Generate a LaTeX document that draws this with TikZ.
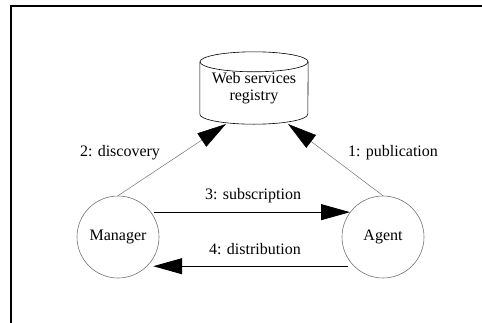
\documentclass[tikz,border=0pt]{standalone}
\usepackage{fontspec}
\setmainfont{Liberation Serif}
\usetikzlibrary{arrows.meta}
\begin{document}
\begin{tikzpicture}[x=1pt,y=-1pt,
  every node/.style={font=\fontsize{16}{17}\selectfont},
  actor/.style={circle,draw=black!55,line width=0.6pt,minimum size=82pt,inner sep=0pt},
  flow/.style={line width=0.9pt,-{Triangle[length=29pt,width=16pt]}},
  lookup/.style={draw=black!55,line width=0.5pt,-{Triangle[length=29pt,width=16pt,fill=black,color=black]}},
  lbl/.style={inner sep=0pt}]
  \useasboundingbox (0,0) rectangle (482,322);
  % outer frame, open to the right and bottom
  \draw[line width=2pt] (11,330) -- (11,6) -- (490,6);

  % registry drawn as a cylinder
  \node[inner sep=0pt,minimum width=108pt,minimum height=52pt,align=center] (reg) at (254,88)
    {Web services\\registry};
  \draw[line width=0.6pt] (reg.north west) -- (reg.south west)
    arc[start angle=180,end angle=360,x radius=54pt,y radius=10pt]
    -- (reg.north east);
  \draw[line width=0.6pt] (reg.north) ellipse[x radius=54pt,y radius=10pt];
  \coordinate (regL) at (226,124);
  \coordinate (regR) at (288,124);

  \node[actor] (man) at (118,237) {Manager};
  \node[actor] (agt) at (383,237) {Agent};

  \draw[lookup] (man.north) -- (regL);
  \draw[lookup] (agt.north) -- (regR);
  \draw[flow] ([xshift=3pt]man.37) -- (agt.143);
  \draw[flow] ([xshift=-6pt]agt.225) -- ([xshift=6pt]man.-45);

  \node[lbl] (l2) at (120,153) {2: discovery};
  \node[lbl] (l1) at (393,153) {1: publication};
  \node[lbl] (l3) at (253,196) {3: subscription};
  \node[lbl] (l4) at (255,249) {4: distribution};
\end{tikzpicture}
\end{document}
